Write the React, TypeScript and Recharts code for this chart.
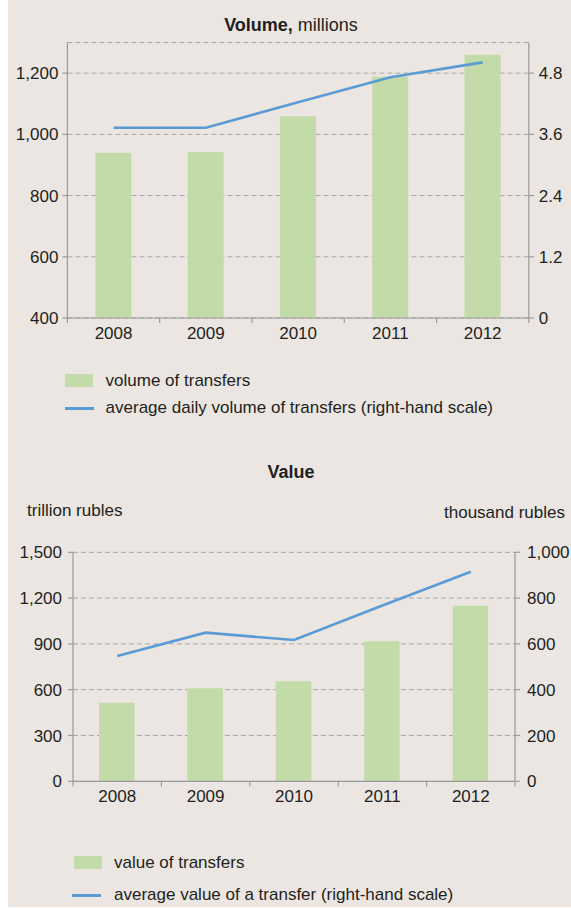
import React from 'react';
import { ComposedChart, Bar, Line, XAxis, YAxis, CartesianGrid } from 'recharts';

// ---------- data ----------
const years = ['2008', '2009', '2010', '2011', '2012'];

const volumeOfTransfers = [940, 942, 1059, 1189, 1260]; // millions
const avgDailyVolume = [3.73, 3.73, 4.23, 4.72, 5.01]; // millions, right scale
const volumeLeftTicks = [400, 600, 800, 1000, 1200];
const volumeRightTicks = [0, 1.2, 2.4, 3.6, 4.8];

const valueOfTransfers = [515, 609, 655, 917, 1150]; // trillion rubles
const avgTransferValue = [547, 649, 617, 768, 915]; // thousand rubles, right scale
const valueLeftTicks = [0, 300, 600, 900, 1200, 1500];
const valueRightTicks = [0, 200, 400, 600, 800, 1000];

const volumeTitleBold = 'Volume,';
const volumeTitleRest = ' millions';
const valueTitle = 'Value';
const valueLeftUnit = 'trillion rubles';
const valueRightUnit = 'thousand rubles';
const volumeLegend = ['volume of transfers', 'average daily volume of transfers (right-hand scale)'];
const valueLegend = ['value of transfers', 'average value of a transfer (right-hand scale)'];

const volumeData = years.map((y, i) => ({ year: y, bar: volumeOfTransfers[i], line: avgDailyVolume[i] }));
const valueData = years.map((y, i) => ({ year: y, bar: valueOfTransfers[i], line: avgTransferValue[i] }));

// ---------- style ----------
const FONT = '"Liberation Sans", Arial, Helvetica, sans-serif';
const TEXT = '#231f20';
const AXIS = '#9a9a9a';
const GRID = '#a8a8a8';
const GREEN = '#c3dba9';
const BLUE = '#5b9bd5';
const BG = '#ebe6e2';
const W = 563;
const FS = 17;

const fmt = (v: number) => v.toLocaleString('en-US');

const makeXTick = (band: number, last: string) => (props: any) => {
  const { x, y, payload } = props;
  const half = band / 2;
  return (
    <g>
      <line x1={x - half} y1={y} x2={x - half} y2={y + 5} stroke={AXIS} strokeWidth={1.2} />
      {payload.value === last && (
        <line x1={x + half} y1={y} x2={x + half} y2={y + 5} stroke={AXIS} strokeWidth={1.2} />
      )}
      <text x={x} y={y + 21} textAnchor="middle" fontSize={FS} fill={TEXT} fontFamily={FONT}>
        {payload.value}
      </text>
    </g>
  );
};

const tickStyle = { fontSize: FS, fill: TEXT, fontFamily: FONT };

type ChartProps = {
  data: any[];
  top: number;
  height: number;
  margin: { top: number; right: number; bottom: number; left: number };
  leftW: number;
  rightW: number;
  leftDomain: [number, number];
  rightDomain: [number, number];
  leftTicks: number[];
  rightTicks: number[];
  barSize: number;
  leftMargin: number;
  rightMargin: number;
};

function DualChart(p: ChartProps) {
  const plotW = W - p.margin.left - p.margin.right - p.leftW - p.rightW;
  const band = plotW / years.length;
  return (
    <div style={{ position: 'absolute', left: 0, top: p.top }}>
      <ComposedChart width={W} height={p.height} data={p.data} margin={p.margin}>
        <CartesianGrid yAxisId="l" vertical={false} stroke={GRID} strokeDasharray="5 3" />
        <XAxis
          dataKey="year"
          height={22}
          axisLine={{ stroke: AXIS, strokeWidth: 1.2 }}
          tickLine={false}
          tickSize={0}
          tickMargin={0}
          interval={0}
          tick={makeXTick(band, years[years.length - 1])}
        />
        <YAxis
          yAxisId="l"
          orientation="left"
          width={p.leftW}
          domain={p.leftDomain}
          ticks={p.leftTicks}
          tickFormatter={fmt}
          axisLine={{ stroke: AXIS, strokeWidth: 1.2 }}
          tickLine={{ stroke: AXIS, strokeWidth: 1.2 }}
          tickSize={5}
          tickMargin={p.leftMargin}
          tick={tickStyle}
          interval={0}
          allowDataOverflow
        />
        <YAxis
          yAxisId="r"
          orientation="right"
          width={p.rightW}
          domain={p.rightDomain}
          ticks={p.rightTicks}
          tickFormatter={fmt}
          axisLine={{ stroke: AXIS, strokeWidth: 1.2 }}
          tickLine={{ stroke: AXIS, strokeWidth: 1.2 }}
          tickSize={5}
          tickMargin={p.rightMargin}
          tick={tickStyle}
          interval={0}
          allowDataOverflow
        />
        <Bar yAxisId="l" dataKey="bar" fill={GREEN} barSize={p.barSize} isAnimationActive={false} />
        <Line
          yAxisId="r"
          type="linear"
          dataKey="line"
          stroke={BLUE}
          strokeWidth={2.6}
          dot={false}
          activeDot={false}
          isAnimationActive={false}
        />
      </ComposedChart>
    </div>
  );
}

function LegendBlock({ labels, top, left, rectLeft, lineLeft, gap }: { labels: string[]; top: number; left: number; rectLeft: number; lineLeft: number; gap: number }) {
  const txt: React.CSSProperties = { position: 'absolute', left, fontSize: FS, lineHeight: '20px', color: TEXT, fontFamily: FONT, whiteSpace: 'nowrap' };
  return (
    <>
      <div style={{ position: 'absolute', left: rectLeft, top: top - 7, width: 28, height: 13, background: GREEN }} />
      <div style={{ ...txt, top: top - 10 }}>{labels[0]}</div>
      <div style={{ position: 'absolute', left: lineLeft, top: top + gap - 1.5, width: 29, height: 3, background: BLUE }} />
      <div style={{ ...txt, top: top + gap - 10 }}>{labels[1]}</div>
    </>
  );
}

export default function App() {
  return (
    <div style={{ position: 'absolute', left: 8, top: 0, width: W, height: 907, background: BG, overflow: 'hidden', fontFamily: FONT }}>
      <div style={{ position: 'absolute', left: 0, width: 566, top: 15, textAlign: 'center', fontSize: 18, lineHeight: '20px', color: TEXT, whiteSpace: 'nowrap' }}>
        <b>{volumeTitleBold}</b>
        {volumeTitleRest}
      </div>
      <DualChart
        data={volumeData}
        top={0}
        height={360}
        margin={{ top: 42.5, right: 12, bottom: 20, left: 0 }}
        leftW={59.4}
        rightW={30.2}
        leftDomain={[400, 1300]}
        rightDomain={[0, 5.4]}
        leftTicks={volumeLeftTicks}
        rightTicks={volumeRightTicks}
        barSize={36}
        leftMargin={4}
        rightMargin={5}
      />
      <LegendBlock labels={volumeLegend} top={381} left={97.6} rectLeft={57} lineLeft={57} gap={27} />

      <div style={{ position: 'absolute', left: 0, width: 566, top: 462, textAlign: 'center', fontSize: 18, lineHeight: '20px', color: TEXT, fontWeight: 'bold' }}>
        {valueTitle}
      </div>
      <div style={{ position: 'absolute', left: 19, top: 500.5, fontSize: FS, lineHeight: '20px', color: TEXT, whiteSpace: 'nowrap' }}>
        {valueLeftUnit}
      </div>
      <div style={{ position: 'absolute', right: 6, top: 502.5, fontSize: FS, lineHeight: '20px', color: TEXT, whiteSpace: 'nowrap' }}>
        {valueRightUnit}
      </div>
      <DualChart
        data={valueData}
        top={440}
        height={466}
        margin={{ top: 112.3, right: 16, bottom: 102.7, left: 0 }}
        leftW={65}
        rightW={40}
        leftDomain={[0, 1500]}
        rightDomain={[0, 1000]}
        leftTicks={valueLeftTicks}
        rightTicks={valueRightTicks}
        barSize={35.5}
        leftMargin={6}
        rightMargin={7}
      />
      <LegendBlock labels={valueLegend} top={863} left={106} rectLeft={66} lineLeft={64} gap={32} />
    </div>
  );
}
